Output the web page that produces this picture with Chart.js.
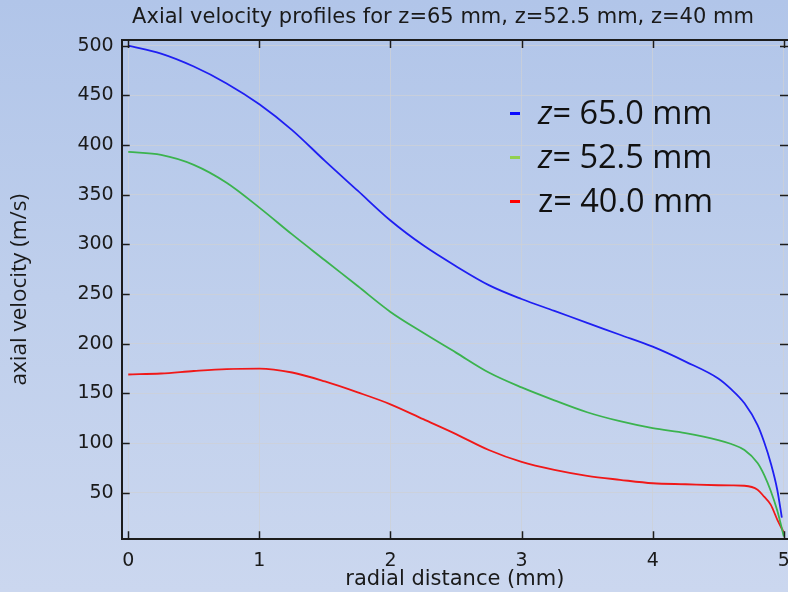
<!DOCTYPE html>
<html>
<head>
<meta charset="utf-8">
<script src="https://cdn.jsdelivr.net/npm/chart.js@4.4.1/dist/chart.umd.min.js"></script>
<style>
  html, body { margin: 0; padding: 0; }
  body {
    width: 788px; height: 592px; overflow: hidden;
    background: linear-gradient(to bottom, #b1c5e9 0%, #bfcfec 50%, #cbd7ef 100%);
  }
  #wrap { position: relative; width: 788px; height: 592px; }
</style>
</head>
<body>
<div id="wrap"><canvas id="velChart" width="788" height="592"></canvas></div>
<script>
// radial positions (mm)
const radius = [0, 0.25, 0.5, 0.75, 1, 1.25, 1.5, 1.75, 2, 2.25, 2.5, 2.75, 3, 3.25, 3.5, 3.75, 4, 4.25, 4.5, 4.6, 4.7, 4.8, 4.85, 4.9, 4.95, 5];
const radius65 = [0, 0.25, 0.5, 0.75, 1, 1.25, 1.5, 1.75, 2, 2.25, 2.5, 2.75, 3, 3.25, 3.5, 3.75, 4, 4.25, 4.5, 4.6, 4.7, 4.8, 4.85, 4.9, 4.95, 4.985];

// axial velocity (m/s)
const vel65 = [500, 492, 479, 462, 441, 415, 384, 354, 324, 299, 278, 259, 245, 233, 221, 209, 197, 182, 165, 154, 140, 118, 101, 80, 53, 25];
const vel525 = [393, 390, 380, 362, 337, 310, 284, 258, 232, 211, 191, 171, 156, 143, 131, 122, 115, 110, 103, 99, 93, 80, 68, 52, 32, 6];
const vel40 = [169, 170, 172.5, 174.5, 175, 171, 162, 151, 139, 124, 109, 93, 81, 73, 67, 63, 59.5, 58.5, 57.5, 57.3, 57, 53, 46, 38, 23, 10];

const seriesLabels = ['z= 65.0 mm', 'z= 52.5 mm', 'z= 40.0 mm'];
const xTicks = [0, 1, 2, 3, 4, 5];
const yTicks = [50, 100, 150, 200, 250, 300, 350, 400, 450, 500];

const pts = (xs, ys) => xs.map((r, i) => ({ x: r, y: ys[i] }));

// inward tick marks and the top frame line, like the COMSOL plot
const frameTicks = {
  id: 'frameTicks',
  afterLayout(chart) {
    // title sits a bit right of the canvas centre in the original
    chart.titleBlock.left += 98;
  },
  afterDatasetsDraw(chart) {
    const { ctx, chartArea: a, scales: { x, y } } = chart;
    ctx.save();
    ctx.strokeStyle = '#1c1c1c';
    ctx.lineWidth = 1.5;
    ctx.beginPath();
    xTicks.forEach(v => {
      const px = Math.round(x.getPixelForValue(v)) + 0.5;
      ctx.moveTo(px, a.bottom); ctx.lineTo(px, a.bottom - 8);
      ctx.moveTo(px, a.top); ctx.lineTo(px, a.top + 8);
    });
    yTicks.forEach(v => {
      const py = Math.round(y.getPixelForValue(v)) + 0.5;
      ctx.moveTo(a.left, py); ctx.lineTo(a.left + 8, py);
      ctx.moveTo(a.right, py); ctx.lineTo(a.right - 8, py);
    });
    ctx.stroke();
    ctx.lineWidth = 2;
    ctx.beginPath();
    ctx.moveTo(a.left, a.top); ctx.lineTo(a.right, a.top);
    ctx.stroke();
    ctx.restore();
  }
};

// big legend pasted inside the plot
const insideLegend = {
  id: 'insideLegend',
  afterDraw(chart) {
    const ctx = chart.ctx;
    const keyColors = ['#0a0aff', '#92d050', '#ff0000'];
    ctx.save();
    ctx.textBaseline = 'alphabetic';
    chart.data.datasets.forEach((ds, i) => {
      const base = 124 + i * 44;
      ctx.fillStyle = keyColors[i];
      ctx.fillRect(510, base - 12, 10, 3);
      ctx.fillStyle = '#111';
      const label = ds.label;
      ctx.font = (i < 2 ? 'italic ' : '') + '32.5px "Open Sans"';
      ctx.fillText(label[0], 538, base);
      const w = ctx.measureText(label[0]).width;
      ctx.font = '32.5px "Open Sans"';
      ctx.fillText(label.slice(1), 538 + w, base);
    });
    ctx.restore();
  }
};

const gridColor = 'rgba(205, 208, 214, 0.75)';

new Chart(document.getElementById('velChart'), {
  type: 'scatter',
  data: {
    datasets: [
      { label: seriesLabels[0], data: pts(radius65, vel65), borderColor: '#1f1ff2' },
      { label: seriesLabels[1], data: pts(radius, vel525), borderColor: '#3bb34e' },
      { label: seriesLabels[2], data: pts(radius, vel40), borderColor: '#f01818' }
    ].map(d => Object.assign(d, {
      showLine: true, pointRadius: 0, borderWidth: 1.8, cubicInterpolationMode: 'monotone', fill: false
    }))
  },
  options: {
    responsive: false,
    animation: false,
    layout: { padding: 0 },
    plugins: {
      legend: { display: false },
      tooltip: { enabled: false },
      title: {
        display: true,
        text: 'Axial velocity profiles for z=65 mm, z=52.5 mm, z=40 mm',
        color: '#1a1a1a',
        font: { family: 'DejaVu Sans', size: 21, weight: 'normal' },
        padding: { top: 5, bottom: 9.8 }
      }
    },
    scales: {
      x: {
        type: 'linear',
        min: -0.05,
        max: 5.032,
        afterBuildTicks: s => { s.ticks = xTicks.map(v => ({ value: v })); },
        afterFit: s => { s.height = 52.7; s.paddingLeft = 0; s.paddingRight = 0; },
        grid: { color: gridColor, drawTicks: false },
        border: { display: true, color: '#1c1c1c', width: 2 },
        ticks: { color: '#1a1a1a', font: { family: 'DejaVu Sans', size: 19 }, padding: 10 },
        title: {
          display: true, text: 'radial distance (mm)', color: '#1a1a1a',
          font: { family: 'DejaVu Sans', size: 21 }, padding: { top: 0, bottom: 0 }
        }
      },
      y: {
        type: 'linear',
        min: 3.1,
        max: 505.7,
        afterBuildTicks: s => { s.ticks = yTicks.map(v => ({ value: v })); },
        afterFit: s => { s.width = 121.7; s.paddingTop = 0; s.paddingBottom = 0; },
        grid: { color: gridColor, drawTicks: false },
        border: { display: true, color: '#1c1c1c', width: 2 },
        ticks: { color: '#1a1a1a', font: { family: 'DejaVu Sans', size: 19 }, padding: 8 },
        title: {
          display: true, text: 'axial velocity (m/s)', color: '#1a1a1a',
          font: { family: 'Open Sans', size: 22.5 }, padding: { top: 6, bottom: 0 }
        }
      }
    }
  },
  plugins: [frameTicks, insideLegend]
});
</script>
</body>
</html>
